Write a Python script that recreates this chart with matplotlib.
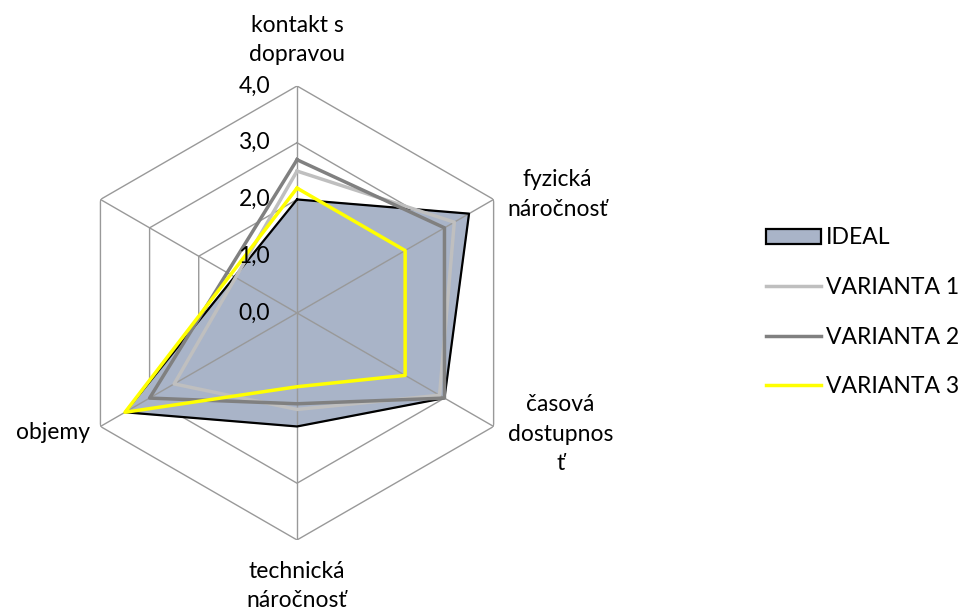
import numpy as np
import matplotlib.pyplot as plt
from matplotlib.patches import Patch
from matplotlib.lines import Line2D

plt.rcParams['font.family'] = ['Lato', 'DejaVu Sans']

# data
categories = ['kontakt s\ndopravou', 'fyzická\nnáročnosť', 'časová\ndostupnos\nť',
              'technická\nnáročnosť', 'objemy', '']
ideal = [2.0, 3.5, 3.0, 2.0, 3.5]
varianta1 = [2.5, 3.2, 2.9, 1.7, 2.5]
varianta2 = [2.7, 3.0, 3.0, 1.6, 3.0]
varianta3 = [2.2, 2.2, 2.2, 1.3, 3.5]
ticks = [0, 1, 2, 3, 4]
tick_labels = ['0,0', '1,0', '2,0', '3,0', '4,0']

n = len(categories)
theta = np.arange(n) * 2 * np.pi / n


def closed(vals):
    # sixth category is empty, the polygon skips it
    th = theta[:len(vals)]
    return np.append(th, th[0]), np.append(vals, vals[0])


fig = plt.figure(figsize=(9.58, 6.10), dpi=100)
ax = fig.add_axes([0.0731, 0.1148, 0.4739, 0.7443], projection='polar')
ax.set_theta_zero_location('N')
ax.set_theta_direction(-1)
ax.set_ylim(0, 4)
ax.grid(False)
ax.set_xticks([])
ax.set_yticks([])
ax.spines['polar'].set_visible(False)
ax.patch.set_alpha(0)

grid_c = '#999999'
th_all = np.append(theta, theta[0])
# rings sit under the fill, spokes above it
for t in ticks[1:]:
    ax.plot(th_all, [t] * (n + 1), color=grid_c, lw=1, zorder=0.5)

th, r = closed(ideal)
ax.fill(th, r, color='#a9b4c8', zorder=1)

for t in theta:
    ax.plot([t, t], [0, 4], color=grid_c, lw=1, zorder=2)

ax.plot(th, r, color='black', lw=1.6, zorder=3)
th, r = closed(varianta1)
ax.plot(th, r, color='#bfbfbf', lw=2.5, zorder=4)
th, r = closed(varianta2)
ax.plot(th, r, color='#808080', lw=2.5, zorder=5)
th, r = closed(varianta3)
ax.plot(th, r, color='#ffff00', lw=2.5, zorder=6)

# value labels left of the top spoke
for t, lab in zip(ticks, tick_labels):
    ax.annotate(lab, xy=(0, t), xytext=(-27, 0), textcoords='offset pixels',
                ha='right', va='center', fontsize=16.5, zorder=10,
                annotation_clip=False)

# category labels
offsets = [(0, 46, 'center'), (64, 5, 'center'), (67, -8, 'center'),
           (0, -46, 'center'), (-10, -6, 'right'), (0, 0, 'center')]
for t, lab, (dx, dy, ha) in zip(theta, categories, offsets):
    ax.annotate(lab, xy=(t, 4), xytext=(dx, dy), textcoords='offset pixels',
                ha=ha, va='center', fontsize=16.5, linespacing=1.5,
                annotation_clip=False)

handles = [Patch(facecolor='#a9b4c8', edgecolor='black', lw=1.6),
           Line2D([], [], color='#bfbfbf', lw=2.5),
           Line2D([], [], color='#808080', lw=2.5),
           Line2D([], [], color='#ffff00', lw=2.5)]
labels = ['IDEAL', 'VARIANTA 1', 'VARIANTA 2', 'VARIANTA 3']
fig.legend(handles, labels, loc='center left', bbox_to_anchor=(0.79, 0.488),
           frameon=False, fontsize=16.5, handlelength=2.4, handleheight=0.65,
           handletextpad=0.2, labelspacing=1.25, borderaxespad=0)

fig.savefig('out.png', dpi=100)
